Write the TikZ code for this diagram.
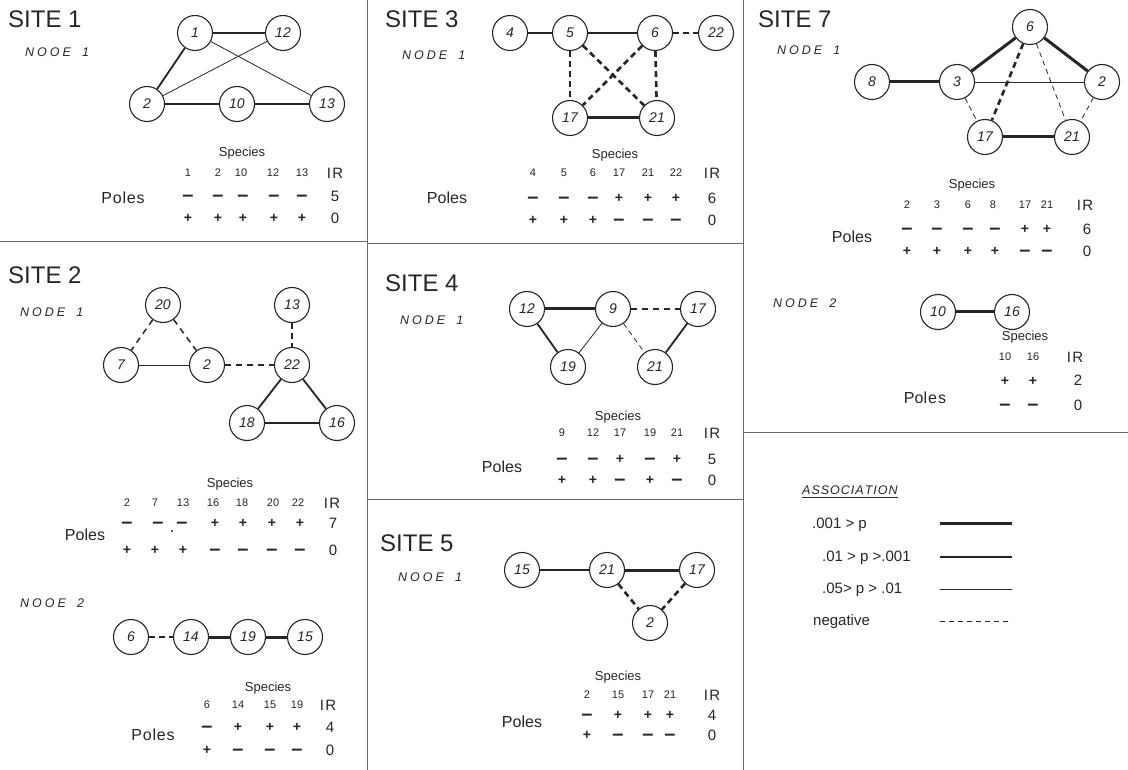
\documentclass[tikz,border=0pt]{standalone}
\usepackage{fontspec}
\setmainfont{Liberation Sans}
\definecolor{ink}{HTML}{262626}
\definecolor{rule}{HTML}{6a6a6a}
\newcommand\sgn[1]{\if#1p{\fontsize{14}{14}\selectfont\bfseries +}\else{\fontsize{20}{20}\selectfont\bfseries –}\fi}
\def\offp{4.8}
\def\offm{5.1}
\newcommand\signrow[3]{\foreach \x/\s [count=\k] in {#3} {\edef\o{\csname off\s\endcsname}\node[sg] (#1\k) at (\x,{#2+\o}) {\sgn\s};}}
\newcommand\numrow[3]{\foreach \x/\t [count=\k] in {#3} {\node[num] (#1\k) at (\x,#2) {\t};}}
\newcommand\nd[2]{#1\kern3pt O\kern3pt #2\kern3pt E\kern11pt}
\begin{document}
\begin{tikzpicture}[x=1pt,y=-1pt,
  every node/.style={text=ink},
  title/.style={font=\fontsize{24}{24}\selectfont, anchor=west, inner sep=0pt},
  nlab/.style={font=\itshape\fontsize{12.5}{12.5}\selectfont, anchor=west, inner sep=0pt},
  sp/.style={circle, draw=ink, line width=1.1pt, minimum size=35pt, inner sep=0pt, font=\itshape\fontsize{14}{14}\selectfont},
  spec/.style={font=\fontsize{13}{13}\selectfont, inner sep=0pt},
  num/.style={font=\fontsize{11}{11}\selectfont, inner sep=0pt},
  irl/.style={font=\fontsize{15}{15}\selectfont, inner sep=0pt},
  val/.style={font=\fontsize{15}{15}\selectfont, inner sep=0pt},
  pl/.style={font=\fontsize{16}{16}\selectfont, inner sep=0pt},
  sg/.style={inner sep=0pt, anchor=base},
  heavy/.style={draw=ink, line width=3pt},
  med/.style={draw=ink, line width=1.8pt},
  thin/.style={draw=ink, line width=0.8pt},
  negh/.style={draw=ink, line width=2.6pt, dash pattern=on 6pt off 4pt},
  negm/.style={draw=ink, line width=1.5pt, dash pattern=on 6pt off 5pt},
  negt/.style={draw=ink, line width=0.8pt, dash pattern=on 5pt off 4pt},
  sep/.style={draw=rule, line width=1pt}
]
\fill[white] (0,0) rectangle (1128,770);
\useasboundingbox (0,0) rectangle (1128,770);

% ---------- separators ----------
\coordinate (v1t) at (367,0);   \coordinate (v1b) at (367,770);
\coordinate (v2t) at (743,0);   \coordinate (v2b) at (743,770);
\coordinate (h1a) at (0,242);   \coordinate (h1b) at (367,242);
\coordinate (h2a) at (367,244); \coordinate (h2b) at (743,244);
\coordinate (h3a) at (367,499); \coordinate (h3b) at (743,499);
\coordinate (h4a) at (743,432); \coordinate (h4b) at (1128,432);
\draw[sep] (v1t) -- (v1b);
\draw[sep] (v2t) -- (v2b);
\draw[sep] (h1a) -- (h1b);
\draw[sep] (h2a) -- (h2b);
\draw[sep] (h3a) -- (h3b);
\draw[sep] (h4a) -- (h4b);

% ================= SITE 1 =================
\node[title] (t1) at (8,19) {SITE 1};
\node[nlab] (t1n) at (25,52) {\nd{N}{O}1};
\node[sp] (a1) at (195,33) {1};
\node[sp] (a12) at (283,33) {12};
\node[sp] (a2) at (147,104) {2};
\node[sp] (a10) at (237,104) {10};
\node[sp] (a13) at (327,104) {13};
\draw[med] (a1) -- (a12);
\draw[med] (a1) -- (a2);
\draw[thin] (a2) -- (a12);
\draw[thin] (a1) -- (a13);
\draw[med] (a2) -- (a10);
\draw[med] (a10) -- (a13);
\node[spec] (a-sp) at (242,153) {Species};
\numrow{a-n}{173}{188/1,218/2,241/10,273/12,302/13}
\node[irl] (a-ir) at (335,173) {I\kern1.5pt R};
\signrow{a-r}{196}{188/m,218/m,243/m,274/m,302/m}
\signrow{a-q}{218}{188/p,218/p,243/p,274/p,302/p}
\node[val] (a-v1) at (335,196) {5};
\node[val] (a-v2) at (335,218) {0};
\node[pl] (a-pl) at (123,198) {P\kern0.8pt o\kern0.8pt l\kern0.8pt e\kern0.8pt s};

% ================= SITE 3 =================
\node[title] (t3) at (385,19) {SITE 3};
\node[nlab] (t3n) at (402,55) {\nd{N}{D}1};
\node[sp] (c4) at (510,33) {4};
\node[sp] (c5) at (570,33) {5};
\node[sp] (c6) at (655,33) {6};
\node[sp] (c22) at (716,33) {22};
\node[sp] (c17) at (570,118) {17};
\node[sp] (c21) at (657,118) {21};
\draw[draw=ink, line width=2.3pt] (c4) -- (c5);
\draw[med] (c5) -- (c6);
\draw[negh] (c6) -- (c22);
\draw[negh] (c5) -- (c17);
\draw[negh] (c5) -- (c21);
\draw[negh] (c6) -- (c17);
\draw[negh] (c6) -- (c21);
\draw[heavy] (c17) -- (c21);
\node[spec] (c-sp) at (615,155) {Species};
\numrow{c-n}{173}{533/4,564/5,593/6,619/17,648/21,676/22}
\node[irl] (c-ir) at (712,173) {I\kern1.5pt R};
\signrow{c-r}{198}{533/m,564/m,593/m,619/p,648/p,676/p}
\signrow{c-q}{220}{533/p,564/p,593/p,619/m,648/m,676/m}
\node[val] (c-v1) at (712,198) {6};
\node[val] (c-v2) at (712,220) {0};
\node[pl] (c-pl) at (447,198) {Poles};

% ================= SITE 7 =================
\node[title] (t7) at (758,19) {SITE 7};
\node[nlab] (t7n) at (777,50) {\nd{N}{D}1};
\node[sp] (g6) at (1030,27) {6};
\node[sp] (g8) at (872,82) {8};
\node[sp] (g3) at (957,82) {3};
\node[sp] (g2) at (1102,82) {2};
\node[sp] (g17) at (985,137) {17};
\node[sp] (g21) at (1072,137) {21};
\draw[heavy] (g8) -- (g3);
\draw[heavy] (g3) -- (g6);
\draw[heavy] (g6) -- (g2);
\draw[thin] (g3) -- (g2);
\draw[negh] (g6) -- (g17);
\draw[negt] (g6) -- (g21);
\draw[negt] (g3) -- (g17);
\draw[negt] (g2) -- (g21);
\draw[heavy] (g17) -- (g21);
\node[spec] (g-sp) at (972,185) {Species};
\numrow{g-n}{205}{907/2,937/3,968/6,993/8,1025/17,1047/21}
\node[irl] (g-ir) at (1085,205) {I\kern1.5pt R};
\signrow{g-r}{229}{907/m,937/m,968/m,995/m,1025/p,1047/p}
\signrow{g-q}{251}{907/p,937/p,968/p,995/p,1025/m,1047/m}
\node[val] (g-v1) at (1087,229) {6};
\node[val] (g-v2) at (1087,251) {0};
\node[pl] (g-pl) at (852,237) {Poles};

% SITE 7 node 2
\node[nlab] (t7m) at (773,303) {\nd{N}{D}2};
\node[sp] (h10) at (938,312) {10};
\node[sp] (h16) at (1012,312) {16};
\draw[heavy] (h10) -- (h16);
\node[spec] (h-sp) at (1025,337) {Species};
\numrow{h-n}{357}{1005/10,1033/16}
\node[irl] (h-ir) at (1075,357) {I\kern1.5pt R};
\signrow{h-r}{381}{1005/p,1033/p}
\signrow{h-q}{405}{1005/m,1033/m}
\node[val] (h-v1) at (1078,380) {2};
\node[val] (h-v2) at (1078,405) {0};
\node[pl] (h-pl) at (925,398) {Pol\kern1pt e\kern1pt s};

% ================= SITE 2 =================
\node[title] (t2) at (8,275) {SITE 2};
\node[nlab] (t2n) at (20,312) {\nd{N}{D}1};
\node[sp] (b20) at (163,305) {20};
\node[sp] (b13) at (292,305) {13};
\node[sp] (b7) at (121,365) {7};
\node[sp] (b2) at (207,365) {2};
\node[sp] (b22) at (292,365) {22};
\node[sp] (b18) at (247,423) {18};
\node[sp] (b16) at (337,423) {16};
\draw[negm] (b20) -- (b7);
\draw[negm] (b20) -- (b2);
\draw[thin] (b7) -- (b2);
\draw[negm] (b2) -- (b22);
\draw[negh] (b13) -- (b22);
\draw[med] (b22) -- (b18);
\draw[med] (b22) -- (b16);
\draw[med] (b18) -- (b16);
\node[spec] (b-sp) at (230,484) {Species};
\numrow{b-n}{503}{127/2,155/7,183/13,213/16,242/18,273/20,298/22}
\node[irl] (b-ir) at (332,503) {I\kern1.5pt R};
\signrow{b-r}{523}{127/m,158/m,182/m,215/p,243/p,272/p,300/p}
\signrow{b-q}{550}{127/p,155/p,183/p,215/m,243/m,272/m,300/m}
\node[val] (b-v1) at (333,523) {7};
\node[val] (b-v2) at (333,550) {0};
\node[pl] (b-pl) at (85,535) {Poles};
\fill[ink] (172,531) circle (1.1pt);

% SITE 2 node 2
\node[nlab] (t2m) at (20,603) {\nd{N}{O}2};
\node[sp] (e6) at (131,637) {6};
\node[sp] (e14) at (191,637) {14};
\node[sp] (e19) at (248,637) {19};
\node[sp] (e15) at (305,637) {15};
\draw[negh] (e6) -- (e14);
\draw[heavy] (e14) -- (e19);
\draw[heavy] (e19) -- (e15);
\node[spec] (e-sp) at (268,688) {Species};
\numrow{e-n}{705}{207/6,238/14,270/15,297/19}
\node[irl] (e-ir) at (328,705) {I\kern1.5pt R};
\signrow{e-r}{727}{207/m,238/p,270/p,297/p}
\signrow{e-q}{750}{207/p,238/m,270/m,297/m}
\node[val] (e-v1) at (330,727) {4};
\node[val] (e-v2) at (330,750) {0};
\node[pl] (e-pl) at (153,735) {P\kern0.8pt o\kern0.8pt l\kern0.8pt e\kern0.8pt s};

% ================= SITE 4 =================
\node[title] (t4) at (385,283) {SITE 4};
\node[nlab] (t4n) at (400,320) {\nd{N}{D}1};
\node[sp] (d12) at (527,309) {12};
\node[sp] (d9) at (613,309) {9};
\node[sp] (d17) at (698,309) {17};
\node[sp] (d19) at (568,367) {19};
\node[sp] (d21) at (655,367) {21};
\draw[heavy] (d12) -- (d9);
\draw[med] (d12) -- (d19);
\draw[thin] (d9) -- (d19);
\draw[negm] (d9) -- (d17);
\draw[negt] (d9) -- (d21);
\draw[med] (d17) -- (d21);
\node[spec] (d-sp) at (618,417) {Species};
\numrow{d-n}{433}{562/9,593/12,620/17,650/19,677/21}
\node[irl] (d-ir) at (712,433) {I\kern1.5pt R};
\signrow{d-r}{459}{562/m,593/m,620/p,650/m,677/p}
\signrow{d-q}{480}{562/p,593/p,620/m,650/p,677/m}
\node[val] (d-v1) at (712,459) {5};
\node[val] (d-v2) at (712,480) {0};
\node[pl] (d-pl) at (502,467) {Poles};

% ================= SITE 5 =================
\node[title] (t5) at (380,543) {SITE 5};
\node[nlab] (t5n) at (398,577) {\nd{N}{O}1};
\node[sp] (f15) at (522,570) {15};
\node[sp] (f21) at (607,570) {21};
\node[sp] (f17) at (697,570) {17};
\node[sp] (f2) at (650,623) {2};
\draw[med] (f15) -- (f21);
\draw[heavy] (f21) -- (f17);
\draw[negh] (f21) -- (f2);
\draw[negh] (f17) -- (f2);
\node[spec] (f-sp) at (618,677) {Species};
\numrow{f-n}{695}{587/2,618/15,648/17,670/21}
\node[irl] (f-ir) at (712,695) {I\kern1.5pt R};
\signrow{f-r}{715}{587/m,618/p,648/p,670/p}
\signrow{f-q}{735}{587/p,618/m,648/m,670/m}
\node[val] (f-v1) at (712,715) {4};
\node[val] (f-v2) at (712,735) {0};
\node[pl] (f-pl) at (522,722) {Poles};

% ================= LEGEND =================
\node[nlab] (lg) at (802,490)
  {A\kern1pt S\kern1pt S\kern1pt O\kern1pt C\kern1pt I\kern1pt A\kern1pt T\kern1pt I\kern1pt O\kern1pt N};
\draw[draw=ink, line width=0.8pt] ([yshift=-3pt]lg.south west) -- ([yshift=-3pt]lg.south east);
\node[anchor=west, inner sep=0pt, font=\fontsize{15}{15}\selectfont] (lt1) at (812,525) {.001 > p};
\node[anchor=west, inner sep=0pt, font=\fontsize{15}{15}\selectfont] (lt2) at (822,558) {.01 > p >.001};
\node[anchor=west, inner sep=0pt, font=\fontsize{15}{15}\selectfont] (lt3) at (822,590) {.05> p > .01};
\node[anchor=west, inner sep=0pt, font=\fontsize{15}{15}\selectfont] (lt4) at (813,622) {negative};
\coordinate (l1a) at (940,523); \coordinate (l1b) at (1012,523);
\coordinate (l2a) at (940,557); \coordinate (l2b) at (1012,557);
\coordinate (l3a) at (940,589); \coordinate (l3b) at (1012,589);
\coordinate (l4a) at (940,621); \coordinate (l4b) at (1012,621);
\draw[heavy] (l1a) -- (l1b);
\draw[med] (l2a) -- (l2b);
\draw[thin] (l3a) -- (l3b);
\draw[negt] (l4a) -- (l4b);
\end{tikzpicture}
\end{document}
